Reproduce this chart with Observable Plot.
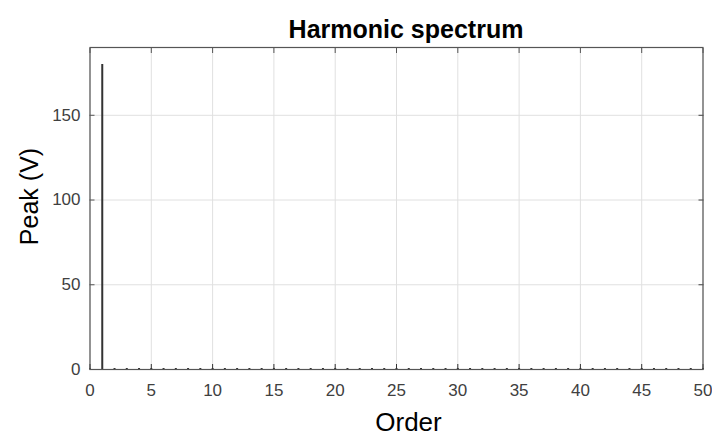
<!DOCTYPE html>
<html>
<head>
<meta charset="utf-8">
<script src="https://cdn.jsdelivr.net/npm/d3@7"></script>
<script src="https://cdn.jsdelivr.net/npm/@observablehq/plot@0.6"></script>
<style>
  html, body { margin: 0; padding: 0; background: #fff; }
  svg { display: block; }
</style>
</head>
<body>
<div id="chart"></div>
<script>
// Harmonic orders 0..50 and their peak amplitudes (V)
const orders = d3.range(0, 51);
const peaks = [
  0.5, 180, 0.6, 0.6, 0.6, 0.6, 0.6, 0.6, 0.6, 0.6,
  0.6, 0.6, 0.6, 0.6, 0.6, 0.6, 0.6, 0.6, 0.6, 0.6,
  0.6, 0.6, 0.6, 0.6, 0.6, 0.6, 0.6, 0.6, 0.6, 0.6,
  0.6, 0.6, 0.6, 0.6, 0.6, 0.6, 0.6, 0.6, 0.6, 0.6,
  0.6, 0.6, 0.6, 0.6, 0.6, 0.6, 0.6, 0.6, 0.6, 0.6,
  0.6
];
const xTicks = [0, 5, 10, 15, 20, 25, 30, 35, 40, 45, 50];
const yTicks = [0, 50, 100, 150];
const titleText = "Harmonic spectrum";
const xLabel = "Order";
const yLabel = "Peak (V)";

const data = orders.map((o, i) => ({order: o, peak: peaks[i]}));

const chart = Plot.plot({
  width: 712,
  height: 437,
  marginLeft: 89.5,
  marginRight: 9.5,
  marginTop: 47,
  marginBottom: 68,
  style: {fontFamily: "Liberation Sans, Arial, sans-serif", fontSize: "17px", background: "#fff"},
  x: {domain: [0, 50], ticks: xTicks},
  y: {domain: [0, 190], ticks: yTicks},
  marks: [
    Plot.gridX(xTicks, {stroke: "#e0e0e0", strokeOpacity: 1}),
    Plot.gridY(yTicks, {stroke: "#e0e0e0", strokeOpacity: 1}),
    Plot.ruleX(data, {x: "order", y1: 0, y2: "peak", stroke: "#333", strokeWidth: 2}),
    Plot.axisX(xTicks, {anchor: "bottom", tickSize: -5, tickPadding: 19, fontSize: 17, color: "#404040", stroke: "#333", label: null}),
    Plot.axisX(xTicks, {anchor: "top", tickSize: -5, text: null, stroke: "#555", label: null}),
    Plot.axisY(yTicks, {anchor: "left", tickSize: -5, tickPadding: 14.5, fontSize: 17, color: "#404040", stroke: "#555", label: null}),
    Plot.axisY(yTicks, {anchor: "right", tickSize: -5, text: null, stroke: "#444", label: null}),
    Plot.frame({stroke: "#555", strokeWidth: 1.2}),
    Plot.text([titleText], {frameAnchor: "top", lineAnchor: "middle", dy: -18, dx: 9.5, fontSize: 25, letterSpacing: 1.5, fontWeight: "bold", fill: "#000"}),
    Plot.text([xLabel], {frameAnchor: "bottom", lineAnchor: "middle", dy: 53.5, dx: 12, fontSize: 26, fill: "#000"}),
    Plot.text([yLabel], {frameAnchor: "left", textAnchor: "middle", lineAnchor: "middle", dx: -60, dy: -12, rotate: -90, fontSize: 25, fill: "#000"})
  ]
});
document.getElementById("chart").appendChild(chart);
</script>
</body>
</html>
